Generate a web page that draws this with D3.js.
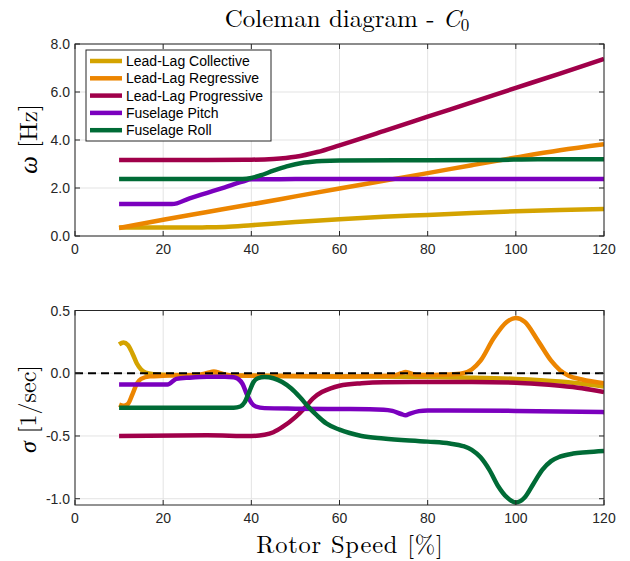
<!DOCTYPE html>
<html>
<head>
<meta charset="utf-8">
<script src="https://cdn.jsdelivr.net/npm/d3@7"></script>
<style>
  html, body { margin: 0; padding: 0; background: #fff; }
  svg { display: block; }
</style>
</head>
<body>
<svg id="chart" width="630" height="561"></svg>
<script>
// ---------------- DATA ----------------
const seriesNames = ["Lead-Lag Collective", "Lead-Lag Regressive", "Lead-Lag Progressive", "Fuselage Pitch", "Fuselage Roll"];
const seriesColors = ["#D4A300", "#EC8500", "#A0004A", "#7B00BE", "#006B36"];

const xTicks = [0, 20, 40, 60, 80, 100, 120];
const freqTicks = [0, 2, 4, 6, 8];
const dampTicks = [-1.0, -0.5, 0.0, 0.5];

// Frequency [Hz] vs rotor speed [%]
const freqCollective = [[10,0.35],[20,0.35],[30,0.36],[34,0.38],[40,0.45],[50,0.58],[60,0.70],[70,0.80],[80,0.88],[90,0.96],[100,1.03],[110,1.08],[120,1.12]];
const freqRegressive = [[10,0.33],[20,0.68],[30,1.0],[40,1.32],[50,1.65],[60,1.98],[70,2.3],[80,2.62],[90,2.95],[100,3.27],[110,3.57],[120,3.82]];
const freqProgressive = [[10,3.17],[30,3.17],[40,3.18],[45,3.21],[50,3.3],[55,3.5],[60,3.78],[70,4.37],[80,4.97],[90,5.57],[100,6.17],[110,6.77],[120,7.38]];
const freqPitch = [[10,1.33],[22,1.33],[26,1.57],[30,1.8],[34,2.03],[38,2.27],[40,2.36],[50,2.37],[80,2.37],[120,2.37]];
const freqRoll = [[10,2.38],[38,2.38],[40,2.42],[42,2.52],[45,2.72],[48,2.9],[52,3.06],[56,3.13],[60,3.15],[80,3.16],[95,3.17],[105,3.2],[120,3.2]];

// Damping sigma [1/sec] vs rotor speed [%]
const dampCollective = [[10,0.23],[11,0.245],[12,0.225],[13,0.16],[14,0.08],[15,0.03],[16,0.005],[18,-0.008],[20,-0.012],[40,-0.02],[60,-0.025],[80,-0.03],[90,-0.035],[100,-0.045],[110,-0.066],[120,-0.105]];
const dampRegressive = [[10,-0.25],[11,-0.26],[12,-0.245],[13,-0.17],[14,-0.085],[15,-0.045],[17,-0.025],[20,-0.02],[28,-0.012],[30,0.002],[31.5,0.014],[33,0.0],[35,-0.015],[40,-0.02],[60,-0.025],[72,-0.02],[74,0.0],[75,0.01],[76,0.0],[78,-0.015],[85,-0.01],[88,0.0],[90,0.03],[92,0.1],[95,0.28],[98,0.41],[100,0.44],[102,0.41],[105,0.26],[108,0.1],[110,0.025],[112,-0.02],[115,-0.05],[120,-0.08]];
const dampProgressive = [[10,-0.5],[30,-0.495],[40,-0.5],[43,-0.49],[45,-0.47],[47,-0.43],[50,-0.35],[52,-0.28],[54,-0.2],[56,-0.15],[58,-0.12],[60,-0.1],[65,-0.08],[70,-0.072],[80,-0.07],[90,-0.07],[100,-0.075],[105,-0.085],[110,-0.1],[115,-0.12],[120,-0.15]];
const dampPitch = [[10,-0.09],[21,-0.09],[23,-0.045],[26,-0.035],[30,-0.028],[34,-0.028],[36,-0.032],[37,-0.045],[38,-0.085],[39,-0.17],[40,-0.235],[41,-0.265],[43,-0.278],[50,-0.282],[60,-0.285],[70,-0.29],[72,-0.3],[74,-0.325],[75,-0.335],[76,-0.322],[78,-0.302],[80,-0.296],[100,-0.3],[120,-0.31]];
const dampRoll = [[10,-0.275],[36,-0.275],[37.5,-0.265],[38.5,-0.23],[39.5,-0.15],[40.5,-0.07],[41.5,-0.04],[43,-0.03],[45,-0.04],[47,-0.07],[49,-0.12],[51,-0.19],[53,-0.27],[55,-0.34],[57,-0.4],[60,-0.45],[65,-0.5],[70,-0.52],[80,-0.545],[85,-0.56],[88,-0.58],[90,-0.61],[92,-0.67],[94,-0.77],[96,-0.9],[98,-0.99],[100,-1.03],[102,-0.99],[104,-0.88],[106,-0.77],[108,-0.7],[110,-0.665],[113,-0.64],[116,-0.63],[120,-0.62]];

const freqSeries = [freqCollective, freqRegressive, freqProgressive, freqPitch, freqRoll];
const dampSeries = [dampCollective, dampRegressive, dampProgressive, dampPitch, dampRoll];

// ---------------- LAYOUT ----------------
const svg = d3.select("#chart");
const left = 75, right = 604;
const top1 = 44, bot1 = 236;
const top2 = 310.5, bot2 = 505;

const x = d3.scaleLinear().domain([0, 120]).range([left, right]);
const y1 = d3.scaleLinear().domain([0, 8]).range([bot1, top1]);
const y2 = d3.scaleLinear().domain([-1.05, 0.5]).range([bot2, top2]);

const tickFont = "Liberation Sans, Arial, Helvetica, sans-serif";
const serifFont = "Latin Modern Roman, CMU Serif, Liberation Serif, Times New Roman, serif";

function drawPanel(y, yTicks, top, bot, id) {
  const g = svg.append("g");
  g.selectAll(".vg").data(xTicks).enter().append("line")
    .attr("x1", d => x(d)).attr("x2", d => x(d)).attr("y1", top).attr("y2", bot)
    .attr("stroke", "#e3e3e3").attr("stroke-width", 1);
  g.selectAll(".hg").data(yTicks).enter().append("line")
    .attr("x1", left).attr("x2", right).attr("y1", d => y(d)).attr("y2", d => y(d))
    .attr("stroke", "#e3e3e3").attr("stroke-width", 1);
  svg.append("clipPath").attr("id", id).append("rect")
    .attr("x", left).attr("y", top).attr("width", right - left).attr("height", bot - top);
  return svg.append("g").attr("clip-path", `url(#${id})`);
}

function drawAxes(y, yTicks, top, bot, fmt) {
  const g = svg.append("g");
  const tl = 5;
  xTicks.forEach(t => {
    g.append("line").attr("x1", x(t)).attr("x2", x(t)).attr("y1", bot).attr("y2", bot - tl).attr("stroke", "#262626");
    g.append("line").attr("x1", x(t)).attr("x2", x(t)).attr("y1", top).attr("y2", top + tl).attr("stroke", "#262626");
    g.append("text").attr("x", x(t)).attr("y", bot + 18).attr("text-anchor", "middle")
      .attr("font-family", tickFont).attr("font-size", 14).attr("fill", "#262626").text(t);
  });
  yTicks.forEach(t => {
    g.append("line").attr("x1", left).attr("x2", left + tl).attr("y1", y(t)).attr("y2", y(t)).attr("stroke", "#262626");
    g.append("line").attr("x1", right).attr("x2", right - tl).attr("y1", y(t)).attr("y2", y(t)).attr("stroke", "#262626");
    g.append("text").attr("x", left - 5).attr("y", y(t) + 5).attr("text-anchor", "end")
      .attr("font-family", tickFont).attr("font-size", 14).attr("fill", "#262626").text(fmt(t));
  });
  g.append("rect").attr("x", left).attr("y", top).attr("width", right - left).attr("height", bot - top)
    .attr("fill", "none").attr("stroke", "#262626").attr("stroke-width", 1);
}

const fmt1 = d => d3.format(".1f")(d).replace("−", "-");

// top panel
const lines1 = drawPanel(y1, freqTicks, top1, bot1, "clip1");
const line1 = d3.line().x(d => x(d[0])).y(d => y1(d[1])).curve(d3.curveMonotoneX);
freqSeries.forEach((s, i) => {
  lines1.append("path").datum(s).attr("d", line1).attr("fill", "none")
    .attr("stroke", seriesColors[i]).attr("stroke-width", 4.5)
    .attr("stroke-linejoin", "round").attr("stroke-linecap", "butt");
});
drawAxes(y1, freqTicks, top1, bot1, fmt1);

// bottom panel
const lines2 = drawPanel(y2, dampTicks, top2, bot2, "clip2");
const line2 = d3.line().x(d => x(d[0])).y(d => y2(d[1])).curve(d3.curveMonotoneX);
dampSeries.forEach((s, i) => {
  lines2.append("path").datum(s).attr("d", line2).attr("fill", "none")
    .attr("stroke", seriesColors[i]).attr("stroke-width", 4.5)
    .attr("stroke-linejoin", "round").attr("stroke-linecap", "butt");
});
lines2.append("line").attr("x1", left).attr("x2", right).attr("y1", y2(0)).attr("y2", y2(0))
  .attr("stroke", "#000").attr("stroke-width", 2.2).attr("stroke-dasharray", "8,5");
drawAxes(y2, dampTicks, top2, bot2, fmt1);

// legend
const lg = svg.append("g");
lg.append("rect").attr("x", 86).attr("y", 50).attr("width", 185).attr("height", 91)
  .attr("fill", "#fff").attr("stroke", "#262626").attr("stroke-width", 1);
seriesNames.forEach((n, i) => {
  const yy = 61 + i * 17.3;
  lg.append("line").attr("x1", 90).attr("x2", 122).attr("y1", yy).attr("y2", yy)
    .attr("stroke", seriesColors[i]).attr("stroke-width", 4.5);
  lg.append("text").attr("x", 126).attr("y", yy + 5).attr("font-family", tickFont)
    .attr("font-size", 14).attr("fill", "#000").text(n);
});

// title
const title = svg.append("text").attr("x", 347).attr("y", 27).attr("text-anchor", "middle")
  .attr("font-family", serifFont).attr("font-size", 25).attr("fill", "#000");
title.append("tspan").text("Coleman diagram - ");
title.append("tspan").attr("font-style", "italic").text("C");
title.append("tspan").attr("font-size", 17).attr("dy", 4).text("0");

// y labels
const yl1 = svg.append("text").attr("transform", `translate(37,139) rotate(-90)`).attr("text-anchor", "middle")
  .attr("font-family", serifFont).attr("font-size", 25).attr("fill", "#000");
yl1.append("tspan").attr("font-style", "italic").text("ω");
yl1.append("tspan").text(" [Hz]");

const yl2 = svg.append("text").attr("transform", `translate(36,409) rotate(-90)`).attr("text-anchor", "middle")
  .attr("font-family", serifFont).attr("font-size", 24).attr("fill", "#000");
yl2.append("tspan").attr("font-style", "italic").text("σ");
yl2.append("tspan").text(" [1/sec]");

// x label
svg.append("text").attr("x", 350).attr("y", 553).attr("text-anchor", "middle")
  .attr("font-family", serifFont).attr("font-size", 24.5).attr("letter-spacing", 0.8).attr("fill", "#000").text("Rotor Speed [%]");
</script>
</body>
</html>
